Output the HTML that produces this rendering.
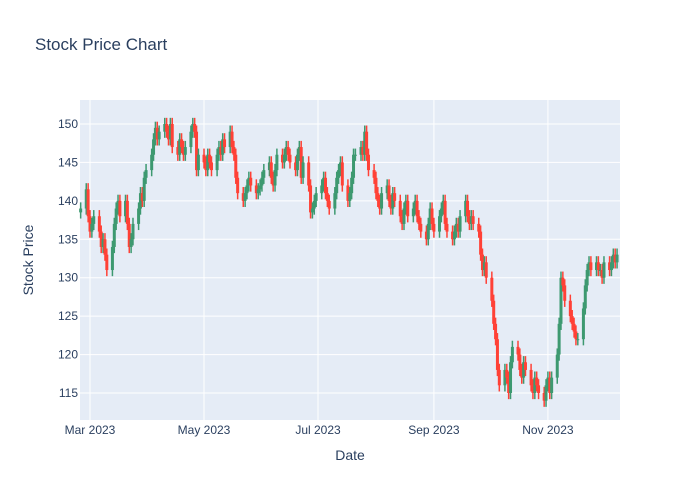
<!DOCTYPE html>
<html><head><meta charset="utf-8"><style>
body{margin:0;background:#fff;}
svg{display:block;font-family:"Liberation Sans",sans-serif;}
</style></head><body>
<svg id="chart" width="700" height="500">
<rect x="0" y="0" width="700" height="500" fill="#fff"/>
<rect x="80" y="100" width="540" height="320" fill="#E5ECF6"/>
<g id="grid"></g><g id="candles"></g><g id="axes"></g>
<text x="35" y="50" font-size="17" fill="#2a3f5f">Stock Price Chart</text>
<text x="350" y="460" font-size="14" fill="#2a3f5f" text-anchor="middle">Date</text>
<text x="33" y="260" font-size="14" fill="#2a3f5f" text-anchor="middle" transform="rotate(-90 33 260)">Stock Price</text>
</svg>
<script>
const startDate = "2023-02-24";
const opens = [138.5,
139,141.5,138,136,137, 138,136,134,135,133, 131,134,137,139,140, 138,140,137,134,135, 137,139,141,140,143,
144,146,148,149.5,148, 149,150,149,148,150, 147,146,148,147,146, 147,149,150,149,144, 146,145,144,146,145,
144,146,147,146,148, 147,149,147,146,143, 141,140,141,142,143, 142,141,141.5,142,143, 144,145,143,142,144,
146,145,146,147,146, 145,144,146,147,143, 145,142,138.5,139,140, 141,142,143,141,140, 139,141,143,144,145,
142,140,141,143,146, 146,147,146,149,146, 144,143,141,140,139, 141,142,140,139,141, 140,138,137,139,140,
138,139,140,138,137, 136,135,137,139,137, 136,138,139,140,137, 136,135,136,137,136, 138,140,138,137,138,
137,136,133,131,132, 130,127,124,122,118, 116,118,117,115,119, 121,120,118,117,119, 118,116,115,117,116,
115,114,116,117,115, 117,120,124,130,129, 127,125,124,123,122, 122,126,129,131,132, 131,132,131,131,130,
132,131,132,133,132];
const closes = [139,
141.5,138,136,137,138, 136,134,135,133,131, 134,137,139,140,138, 140,137,134,135,137, 139,141,140,143,144,
146,148,149.5,148,149, 150,149,148,150,147, 146,148,147,146,147, 149,150,149,144,146, 145,144,146,145,144,
146,147,146,148,147, 149,147,146,143,141, 140,141,142,143,142, 141,141.5,142,143,144, 145,143,142,144,146,
145,146,147,146,145, 144,146,147,143,145, 142,138.5,139,140,141, 142,143,141,140,139, 141,143,144,145,142,
140,141,143,146,146, 147,146,149,146,144, 143,141,140,139,141, 142,140,139,141,140, 138,137,139,140,138,
139,140,138,137,136, 135,137,139,137,136, 138,139,140,137,136, 135,136,137,136,138, 140,138,137,138,137,
136,133,131,132,130, 127,124,122,118,116, 118,117,115,119,121, 120,118,117,119,118, 116,115,117,116,115,
114,116,117,115,117, 120,124,130,129,127, 125,124,123,122,122, 126,129,131,132,131, 132,131,131,130,132,
131,132,133,132,133];
const highs = [139.8,
142.3,142.3,138.8,137.8,138.8, 138.8,136.8,135.8,135.8,133.8, 134.8,137.8,139.8,140.8,140.8, 140.8,140.8,137.8,135.8,137.8, 139.8,141.8,141.8,143.8,144.8,
146.8,148.8,150.3,150.3,149.8, 150.8,150.8,149.8,150.8,150.8, 147.8,148.8,148.8,147.8,147.8, 149.8,150.8,150.8,149.8,146.8, 146.8,145.8,146.8,146.8,145.8,
146.8,147.8,147.8,148.8,148.8, 149.8,149.8,147.8,146.8,143.8, 141.8,141.8,142.8,143.8,143.8, 142.8,142.3,142.8,143.8,144.8, 145.8,145.8,143.8,144.8,146.8,
146.8,146.8,147.8,147.8,146.8, 145.8,146.8,147.8,147.8,145.8, 145.8,142.8,139.8,140.8,141.8, 142.8,143.8,143.8,141.8,140.8, 141.8,143.8,144.8,145.8,145.8,
142.8,141.8,143.8,146.8,146.8, 147.8,147.8,149.8,149.8,146.8, 144.8,143.8,141.8,140.8,141.8, 142.8,142.8,140.8,141.8,141.8, 140.8,138.8,139.8,140.8,140.8,
139.8,140.8,140.8,138.8,137.8, 136.8,137.8,139.8,139.8,137.8, 138.8,139.8,140.8,140.8,137.8, 136.8,136.8,137.8,137.8,138.8, 140.8,140.8,138.8,138.8,138.8,
137.8,136.8,133.8,132.8,132.8, 130.8,127.8,124.8,122.8,118.8, 118.8,118.8,117.8,119.8,121.8, 121.8,120.8,118.8,119.8,119.8, 118.8,116.8,117.8,117.8,116.8,
115.8,116.8,117.8,117.8,117.8, 120.8,124.8,130.8,130.8,129.8, 127.8,125.8,124.8,123.8,122.8, 126.8,129.8,131.8,132.8,132.8, 132.8,132.8,131.8,131.8,132.8,
132.8,132.8,133.8,133.8,133.8];
const lows = [137.7,
138.2,137.2,135.2,135.2,136.2, 135.2,133.2,133.2,132.2,130.2, 130.2,133.2,136.2,138.2,137.2, 137.2,136.2,133.2,133.2,134.2, 136.2,138.2,139.2,139.2,142.2,
143.2,145.2,147.2,147.2,147.2, 148.2,148.2,147.2,147.2,146.2, 145.2,145.2,146.2,145.2,145.2, 146.2,148.2,148.2,143.2,143.2, 144.2,143.2,143.2,144.2,143.2,
143.2,145.2,145.2,145.2,146.2, 146.2,146.2,145.2,142.2,140.2, 139.2,139.2,140.2,141.2,141.2, 140.2,140.2,140.7,141.2,142.2, 143.2,142.2,141.2,141.2,143.2,
144.2,144.2,145.2,145.2,144.2, 143.2,143.2,145.2,142.2,142.2, 141.2,137.7,137.7,138.2,139.2, 140.2,141.2,140.2,139.2,138.2, 138.2,140.2,142.2,143.2,141.2,
139.2,139.2,140.2,142.2,145.2, 145.2,145.2,145.2,145.2,143.2, 142.2,140.2,139.2,138.2,138.2, 140.2,139.2,138.2,138.2,139.2, 137.2,136.2,136.2,138.2,137.2,
137.2,138.2,137.2,136.2,135.2, 134.2,134.2,136.2,136.2,135.2, 135.2,137.2,138.2,136.2,135.2, 134.2,134.2,135.2,135.2,135.2, 137.2,137.2,136.2,136.2,136.2,
135.2,132.2,130.2,130.2,129.2, 126.2,123.2,121.2,117.2,115.2, 115.2,116.2,114.2,114.2,118.2, 119.2,117.2,116.2,116.2,117.2, 115.2,114.2,114.2,115.2,114.2,
113.2,113.2,115.2,114.2,114.2, 116.2,119.2,123.2,128.2,126.2, 124.2,123.2,122.2,121.2,121.2, 121.2,125.2,128.2,130.2,130.2, 130.2,130.2,130.2,129.2,129.2,
130.2,130.2,131.2,131.2,131.2];
const yTicks = [115,120,125,130,135,140,145,150];
const xTickDates = ["2023-03-01","2023-05-01","2023-07-01","2023-09-01","2023-11-01"];
const xTickLabels = ["Mar 2023","May 2023","Jul 2023","Sep 2023","Nov 2023"];

const NS="http://www.w3.org/2000/svg";
const DAY=86400000, T0=Date.parse("2023-03-01");
function xPos(t){return 90+(t-T0)/DAY*1.869;}
function yPos(v){return 393-(v-115)*7.686;}
function mk(tag,attrs,parent){const e=document.createElementNS(NS,tag);for(const k in attrs)e.setAttribute(k,attrs[k]);parent.appendChild(e);return e;}
const grid=document.getElementById('grid'),axes=document.getElementById('axes'),cg=document.getElementById('candles');
yTicks.forEach(v=>{
  const y=yPos(v);
  const l=mk('line',{x1:80,x2:620,y1:y,y2:y,stroke:'#fff','stroke-width':1},grid);
  
  
  const t=mk('text',{x:78,y:y+4,'font-size':12,fill:'#2a3f5f','text-anchor':'end'},axes);
  t.textContent=v;
  
  
});
xTickDates.forEach((d,i)=>{
  const x=xPos(Date.parse(d));
  const l=mk('line',{x1:x,x2:x,y1:100,y2:420,stroke:'#fff','stroke-width':1},grid);
  
  
  const t=mk('text',{x:x,y:434,'font-size':12,fill:'#2a3f5f','text-anchor':'middle'},axes);
  t.textContent=xTickLabels[i];
  
  
});
let t=Date.parse(startDate);
for(let i=0;i<closes.length;i++){
  while(new Date(t).getUTCDay()===0||new Date(t).getUTCDay()===6)t+=DAY;
  const x=xPos(t);
  const up=closes[i]>=opens[i];
  const col=up?'#3D9970':'#FF4136';
  const g=mk('g',{},cg);
  
  
  mk('line',{x1:x,x2:x,y1:yPos(highs[i]),y2:yPos(lows[i]),stroke:col,'stroke-width':1.5},g);
  const top=yPos(Math.max(opens[i],closes[i])),bot=yPos(Math.min(opens[i],closes[i]));
  mk('rect',{x:x-1.5,y:top,width:3,height:Math.max(bot-top,1),fill:col},g);
  t+=DAY;
}
</script>
</body></html>
